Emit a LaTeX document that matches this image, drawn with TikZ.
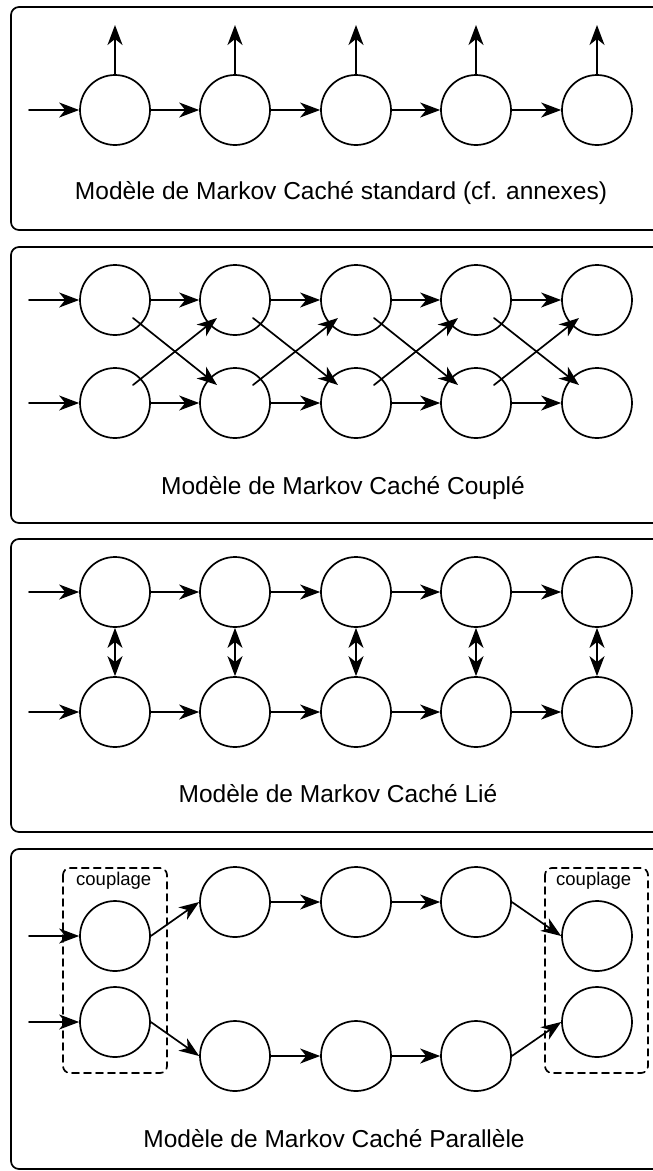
\documentclass[tikz,border=0pt]{standalone}
\usepackage{fontspec}
\setmainfont{Liberation Sans}
\usetikzlibrary{arrows.meta}

\begin{document}
\begin{tikzpicture}[x=1pt,y=-1pt,>={Stealth[length=20pt,width=15pt,inset=6pt]},
	line width=1.7pt, line join=round, line cap=round,
	font=\fontsize{24.5}{29}\selectfont,
	etat/.style={circle,draw,minimum size=70pt,inner sep=0pt},
	cadre/.style={draw,rounded corners=8pt},
	groupe/.style={draw,dash pattern=on 7pt off 5pt,rounded corners=7pt},
	titre/.style={anchor=base},
	petit/.style={font=\fontsize{18.5}{22}\selectfont,anchor=base west}]
	\useasboundingbox (0,0) rectangle (653,1171);
	\clip (0,0) rectangle (653,1171);
	%	\draw[color=gray!50,dashed] (0,0) grid[step=50] (653,1171);
	\draw[cadre] (11,7) rectangle (700,230);
	\draw[cadre] (11,247) rectangle (700,523);
	\draw[cadre] (11,539) rectangle (700,832);
	\draw[cadre] (11,849) rectangle (700,1169);
	% standard
	\foreach \i/\x in {1/115,2/235,3/356,4/476,5/597}{
		\node[etat] (a\i) at (\x,110) {};
		\coordinate (ao\i) at (\x,25);
		\draw[->] (a\i.north) -- (ao\i);
	}
	\coordinate (ain) at (29,110);
	\draw[->] (ain) -- (a1);
	\foreach \i/\j in {1/2,2/3,3/4,4/5} \draw[->] (a\i) -- (a\j);
	\node[titre] (ta) at (341,199) {Modèle de Markov Caché standard (cf. annexes)};
	% couple
	\foreach \i/\x in {1/115,2/235,3/356,4/476,5/597}{
		\node[etat] (t\i) at (\x,300) {};
		\node[etat] (b\i) at (\x,403) {};
	}
	\coordinate (tin) at (29,300);
	\coordinate (bin) at (29,403);
	\draw[->] (tin) -- (t1);
	\draw[->] (bin) -- (b1);
	\foreach \i/\j in {1/2,2/3,3/4,4/5}{
		\draw[->] (t\i) -- (t\j);
		\draw[->] (b\i) -- (b\j);
		\draw[->] ([shift={(18pt,-18pt)}]t\i.center) -- ([shift={(-18pt,18pt)}]b\j.center);
		\draw[->] ([shift={(18pt,18pt)}]b\i.center) -- ([shift={(-18pt,-18pt)}]t\j.center);
	}
	\node[titre] (tb) at (343,494) {Modèle de Markov Caché Couplé};
	% lie
	\foreach \i/\x in {1/115,2/235,3/356,4/476,5/597}{
		\node[etat] (h\i) at (\x,592) {};
		\node[etat] (l\i) at (\x,712) {};
		\draw[<->] (h\i) -- (l\i);
	}
	\coordinate (hin) at (29,592);
	\coordinate (lin) at (29,712);
	\draw[->] (hin) -- (h1);
	\draw[->] (lin) -- (l1);
	\foreach \i/\j in {1/2,2/3,3/4,4/5}{
		\draw[->] (h\i) -- (h\j);
		\draw[->] (l\i) -- (l\j);
	}
	\node[titre] (tc) at (338,802) {Modèle de Markov Caché Lié};
	% parallele
	\draw[groupe] (63,868) rectangle (167,1073);
	\draw[groupe] (545,868) rectangle (648,1073);
	\node[petit] (cg) at (72,885) {couplage};
	\node[petit] (cd) at (552,885) {couplage};
	\node[etat] (p1) at (115,936) {};
	\node[etat] (p2) at (115,1022) {};
	\node[etat] (q1) at (597,936) {};
	\node[etat] (q2) at (597,1022) {};
	\foreach \i/\x in {1/235,2/356,3/476}{
		\node[etat] (u\i) at (\x,902) {};
		\node[etat] (d\i) at (\x,1056) {};
	}
	\coordinate (pin1) at (29,936);
	\coordinate (pin2) at (29,1022);
	\draw[->] (pin1) -- (p1);
	\draw[->] (pin2) -- (p2);
	\draw[->] (p1.east) -- (u1.west);
	\draw[->] (p2.east) -- (d1.west);
	\foreach \i/\j in {1/2,2/3}{
		\draw[->] (u\i) -- (u\j);
		\draw[->] (d\i) -- (d\j);
	}
	\draw[->] (u3.east) -- (q1.west);
	\draw[->] (d3.east) -- (q2.west);
	\node[titre] (td) at (334,1147) {Modèle de Markov Caché Parallèle};
\end{tikzpicture}
\end{document}
